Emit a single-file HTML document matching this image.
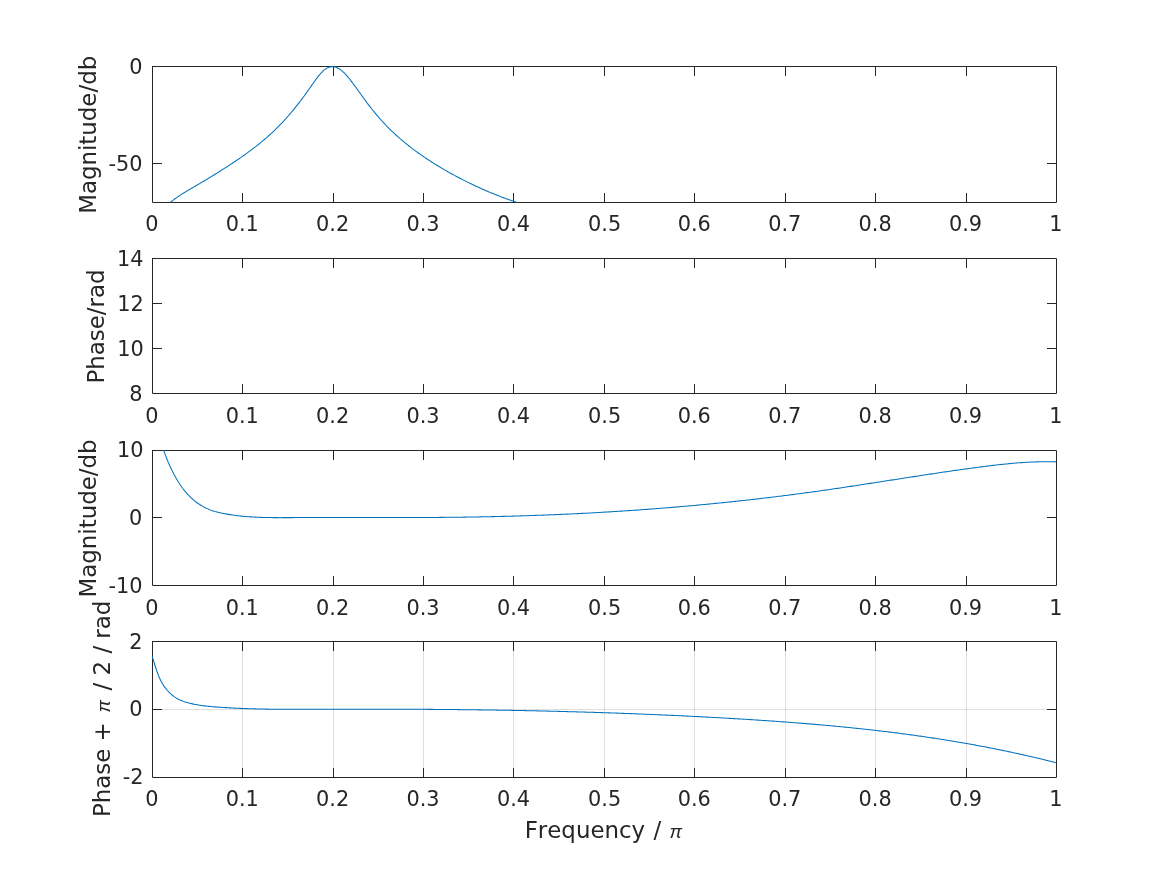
<!DOCTYPE html>
<html><head><meta charset="utf-8"><title>Figure</title>
<style>html,body{margin:0;padding:0;background:#fff;overflow:hidden}svg{display:block}text{font-kerning:none}</style>
</head><body>
<svg width="1167" height="875" viewBox="0 0 1167 875">
<rect width="1167" height="875" fill="#fff"/>
<path d="M242.5,641.5V777.5M333.5,641.5V777.5M423.5,641.5V777.5M513.5,641.5V777.5M604.5,641.5V777.5M694.5,641.5V777.5M785.5,641.5V777.5M875.5,641.5V777.5M966.5,641.5V777.5M152.5,709.5H1056.5" stroke="#262626" stroke-opacity="0.15" stroke-width="1" fill="none"/>
<path d="M152.5,66.5H1056.5V202.5H152.5V66.5M242.5,202.5v-9M242.5,66.5v9M333.5,202.5v-9M333.5,66.5v9M423.5,202.5v-9M423.5,66.5v9M513.5,202.5v-9M513.5,66.5v9M604.5,202.5v-9M604.5,66.5v9M694.5,202.5v-9M694.5,66.5v9M785.5,202.5v-9M785.5,66.5v9M875.5,202.5v-9M875.5,66.5v9M966.5,202.5v-9M966.5,66.5v9M152.5,163.5h9M1056.5,163.5h-9" stroke="#262626" stroke-width="1" fill="none" stroke-linecap="square"/>
<path d="M152.5,258.5H1056.5V393.5H152.5V258.5M242.5,393.5v-9M242.5,258.5v9M333.5,393.5v-9M333.5,258.5v9M423.5,393.5v-9M423.5,258.5v9M513.5,393.5v-9M513.5,258.5v9M604.5,393.5v-9M604.5,258.5v9M694.5,393.5v-9M694.5,258.5v9M785.5,393.5v-9M785.5,258.5v9M875.5,393.5v-9M875.5,258.5v9M966.5,393.5v-9M966.5,258.5v9M152.5,303.5h9M1056.5,303.5h-9M152.5,348.5h9M1056.5,348.5h-9" stroke="#262626" stroke-width="1" fill="none" stroke-linecap="square"/>
<path d="M152.5,450.5H1056.5V585.5H152.5V450.5M242.5,585.5v-9M242.5,450.5v9M333.5,585.5v-9M333.5,450.5v9M423.5,585.5v-9M423.5,450.5v9M513.5,585.5v-9M513.5,450.5v9M604.5,585.5v-9M604.5,450.5v9M694.5,585.5v-9M694.5,450.5v9M785.5,585.5v-9M785.5,450.5v9M875.5,585.5v-9M875.5,450.5v9M966.5,585.5v-9M966.5,450.5v9M152.5,517.5h9M1056.5,517.5h-9" stroke="#262626" stroke-width="1" fill="none" stroke-linecap="square"/>
<path d="M152.5,641.5H1056.5V777.5H152.5V641.5M242.5,777.5v-9M242.5,641.5v9M333.5,777.5v-9M333.5,641.5v9M423.5,777.5v-9M423.5,641.5v9M513.5,777.5v-9M513.5,641.5v9M604.5,777.5v-9M604.5,641.5v9M694.5,777.5v-9M694.5,641.5v9M785.5,777.5v-9M785.5,641.5v9M875.5,777.5v-9M875.5,641.5v9M966.5,777.5v-9M966.5,641.5v9M152.5,709.5h9M1056.5,709.5h-9" stroke="#262626" stroke-width="1" fill="none" stroke-linecap="square"/>
<defs><clipPath id="c0"><rect x="152" y="66" width="905" height="136.2"/></clipPath><clipPath id="c1"><rect x="152" y="258" width="905" height="135.2"/></clipPath><clipPath id="c2"><rect x="152" y="450" width="905" height="135.2"/></clipPath><clipPath id="c3"><rect x="152" y="641" width="905" height="136.2"/></clipPath></defs>
<path clip-path="url(#c0)" d="M160.00,216.48 L161.00,214.45 L162.00,212.65 L163.00,211.04 L164.00,209.58 L165.00,208.25 L166.00,207.03 L167.00,205.89 L168.00,204.83 L169.00,203.83 L170.00,202.89 L171.00,201.99 L172.00,201.14 L173.00,200.33 L174.00,199.54 L175.00,198.79 L176.00,198.06 L177.00,197.35 L178.00,196.66 L179.00,195.98 L180.00,195.32 L181.00,194.68 L182.00,194.04 L183.00,193.41 L184.00,192.79 L185.00,192.18 L186.00,191.58 L187.00,190.97 L188.00,190.38 L189.00,189.79 L190.00,189.20 L191.00,188.61 L192.00,188.02 L193.00,187.44 L194.00,186.85 L195.00,186.27 L196.00,185.68 L197.00,185.10 L198.00,184.51 L199.00,183.93 L200.00,183.34 L201.00,182.75 L202.00,182.17 L203.00,181.57 L204.00,180.98 L205.00,180.39 L206.00,179.79 L207.00,179.19 L208.00,178.59 L209.00,177.99 L210.00,177.38 L211.00,176.77 L212.00,176.16 L213.00,175.55 L214.00,174.93 L215.00,174.32 L216.00,173.70 L217.00,173.08 L218.00,172.45 L219.00,171.82 L220.00,171.19 L221.00,170.56 L222.00,169.93 L223.00,169.29 L224.00,168.65 L225.00,168.01 L226.00,167.37 L227.00,166.72 L228.00,166.08 L229.00,165.43 L230.00,164.77 L231.00,164.12 L232.00,163.46 L233.00,162.80 L234.00,162.14 L235.00,161.47 L236.00,160.80 L237.00,160.13 L238.00,159.45 L239.00,158.77 L240.00,158.08 L241.00,157.39 L242.00,156.69 L243.00,155.99 L244.00,155.29 L245.00,154.58 L246.00,153.86 L247.00,153.14 L248.00,152.42 L249.00,151.68 L250.00,150.95 L251.00,150.20 L252.00,149.45 L253.00,148.69 L254.00,147.93 L255.00,147.16 L256.00,146.38 L257.00,145.60 L258.00,144.80 L259.00,144.00 L260.00,143.19 L261.00,142.38 L262.00,141.55 L263.00,140.72 L264.00,139.87 L265.00,139.02 L266.00,138.16 L267.00,137.29 L268.00,136.40 L269.00,135.51 L270.00,134.61 L271.00,133.70 L272.00,132.77 L273.00,131.83 L274.00,130.89 L275.00,129.93 L276.00,128.95 L277.00,127.97 L278.00,126.97 L279.00,125.96 L280.00,124.93 L281.00,123.89 L282.00,122.84 L283.00,121.78 L284.00,120.70 L285.00,119.61 L286.00,118.50 L287.00,117.38 L288.00,116.25 L289.00,115.10 L290.00,113.94 L291.00,112.76 L292.00,111.57 L293.00,110.37 L294.00,109.15 L295.00,107.92 L296.00,106.68 L297.00,105.42 L298.00,104.14 L299.00,102.86 L300.00,101.55 L301.00,100.23 L302.00,98.90 L303.00,97.55 L304.00,96.19 L305.00,94.81 L306.00,93.42 L307.00,92.02 L308.00,90.61 L309.00,89.19 L310.00,87.76 L311.00,86.34 L312.00,84.91 L313.00,83.49 L314.00,82.08 L315.00,80.69 L316.00,79.32 L317.00,77.98 L318.00,76.68 L319.00,75.43 L320.00,74.23 L321.00,73.10 L322.00,72.04 L323.00,71.06 L324.00,70.17 L325.00,69.38 L326.00,68.68 L327.00,68.09 L328.00,67.60 L329.00,67.21 L330.00,66.93 L331.00,66.76 L332.00,66.68 L333.00,66.70 L334.00,66.82 L335.00,67.04 L336.00,67.34 L337.00,67.73 L338.00,68.21 L339.00,68.77 L340.00,69.42 L341.00,70.14 L342.00,70.93 L343.00,71.80 L344.00,72.74 L345.00,73.74 L346.00,74.80 L347.00,75.91 L348.00,77.08 L349.00,78.28 L350.00,79.53 L351.00,80.81 L352.00,82.13 L353.00,83.46 L354.00,84.82 L355.00,86.19 L356.00,87.57 L357.00,88.96 L358.00,90.36 L359.00,91.76 L360.00,93.16 L361.00,94.55 L362.00,95.94 L363.00,97.32 L364.00,98.69 L365.00,100.05 L366.00,101.40 L367.00,102.74 L368.00,104.06 L369.00,105.37 L370.00,106.67 L371.00,107.95 L372.00,109.21 L373.00,110.46 L374.00,111.69 L375.00,112.91 L376.00,114.11 L377.00,115.30 L378.00,116.46 L379.00,117.62 L380.00,118.76 L381.00,119.88 L382.00,120.98 L383.00,122.08 L384.00,123.15 L385.00,124.22 L386.00,125.26 L387.00,126.30 L388.00,127.32 L389.00,128.32 L390.00,129.32 L391.00,130.30 L392.00,131.26 L393.00,132.22 L394.00,133.16 L395.00,134.09 L396.00,135.01 L397.00,135.92 L398.00,136.81 L399.00,137.70 L400.00,138.57 L401.00,139.44 L402.00,140.29 L403.00,141.13 L404.00,141.97 L405.00,142.79 L406.00,143.61 L407.00,144.41 L408.00,145.21 L409.00,146.00 L410.00,146.78 L411.00,147.55 L412.00,148.32 L413.00,149.07 L414.00,149.82 L415.00,150.56 L416.00,151.30 L417.00,152.02 L418.00,152.74 L419.00,153.46 L420.00,154.16 L421.00,154.86 L422.00,155.56 L423.00,156.25 L424.00,156.93 L425.00,157.60 L426.00,158.27 L427.00,158.94 L428.00,159.60 L429.00,160.26 L430.00,160.91 L431.00,161.55 L432.00,162.19 L433.00,162.82 L434.00,163.45 L435.00,164.08 L436.00,164.70 L437.00,165.32 L438.00,165.93 L439.00,166.53 L440.00,167.13 L441.00,167.73 L442.00,168.33 L443.00,168.91 L444.00,169.50 L445.00,170.08 L446.00,170.66 L447.00,171.23 L448.00,171.80 L449.00,172.36 L450.00,172.92 L451.00,173.48 L452.00,174.03 L453.00,174.58 L454.00,175.12 L455.00,175.66 L456.00,176.20 L457.00,176.73 L458.00,177.26 L459.00,177.79 L460.00,178.31 L461.00,178.83 L462.00,179.34 L463.00,179.85 L464.00,180.36 L465.00,180.87 L466.00,181.37 L467.00,181.86 L468.00,182.36 L469.00,182.85 L470.00,183.33 L471.00,183.82 L472.00,184.30 L473.00,184.77 L474.00,185.25 L475.00,185.72 L476.00,186.18 L477.00,186.64 L478.00,187.10 L479.00,187.56 L480.00,188.01 L481.00,188.46 L482.00,188.91 L483.00,189.35 L484.00,189.79 L485.00,190.23 L486.00,190.66 L487.00,191.09 L488.00,191.52 L489.00,191.94 L490.00,192.36 L491.00,192.78 L492.00,193.19 L493.00,193.60 L494.00,194.01 L495.00,194.41 L496.00,194.81 L497.00,195.21 L498.00,195.60 L499.00,195.99 L500.00,196.38 L501.00,196.76 L502.00,197.15 L503.00,197.52 L504.00,197.90 L505.00,198.27 L506.00,198.64 L507.00,199.00 L508.00,199.36 L509.00,199.72 L510.00,200.07 L511.00,200.42 L512.00,200.77 L513.00,201.12 L514.00,201.46 L515.00,201.79 L516.00,202.13 L517.00,202.46 L518.00,202.79 L519.00,203.11 L520.00,203.43 L521.00,203.75 L522.00,204.06 L523.00,204.38 L524.00,204.68 L525.00,204.99 L526.00,205.29 L527.00,205.58 L528.00,205.88 L529.00,206.17" stroke="#0072BD" stroke-width="1.05" fill="none" stroke-linejoin="round"/>
<path clip-path="url(#c2)" d="M160.70,442.43 L163.70,450.54 L165.20,454.60 L166.70,458.44 L168.20,462.08 L169.70,465.53 L171.20,468.78 L172.70,471.86 L174.20,474.76 L175.70,477.50 L177.20,480.08 L178.70,482.51 L180.20,484.79 L181.70,486.94 L183.20,488.96 L184.70,490.85 L186.20,492.63 L187.70,494.31 L189.20,495.88 L190.70,497.36 L192.20,498.76 L193.70,500.07 L195.20,501.30 L196.70,502.46 L198.20,503.54 L199.70,504.54 L201.20,505.48 L202.70,506.36 L204.20,507.17 L205.70,507.93 L207.20,508.63 L208.70,509.27 L210.20,509.87 L211.70,510.43 L213.20,510.94 L214.70,511.41 L216.20,511.84 L217.70,512.24 L219.20,512.61 L220.70,512.95 L222.20,513.27 L223.70,513.57 L225.20,513.85 L226.70,514.12 L228.20,514.37 L229.70,514.61 L231.20,514.84 L232.70,515.06 L234.20,515.27 L235.70,515.46 L237.20,515.65 L238.70,515.82 L240.20,515.99 L241.70,516.14 L243.20,516.29 L244.70,516.42 L246.20,516.55 L247.70,516.67 L249.20,516.78 L250.70,516.88 L252.20,516.97 L253.70,517.06 L255.20,517.13 L256.70,517.21 L258.20,517.27 L259.70,517.33 L261.20,517.38 L262.70,517.43 L264.20,517.47 L265.70,517.50 L267.20,517.54 L268.70,517.56 L270.20,517.58 L271.70,517.60 L273.20,517.62 L274.70,517.63 L276.20,517.64 L277.70,517.64 L279.20,517.65 L280.70,517.65 L282.20,517.64 L283.70,517.64 L285.20,517.64 L286.70,517.63 L288.20,517.63 L289.70,517.62 L291.20,517.61 L292.70,517.61 L294.20,517.60 L295.70,517.59 L297.20,517.59 L298.70,517.58 L300.20,517.58 L301.70,517.57 L303.20,517.57 L304.70,517.57 L306.20,517.56 L307.70,517.56 L309.20,517.56 L310.70,517.55 L312.20,517.55 L313.70,517.55 L315.20,517.55 L316.70,517.54 L318.20,517.54 L319.70,517.54 L321.20,517.54 L322.70,517.54 L324.20,517.54 L325.70,517.54 L327.20,517.54 L328.70,517.54 L330.20,517.54 L331.70,517.54 L333.20,517.54 L334.70,517.54 L336.20,517.54 L337.70,517.54 L339.20,517.54 L340.70,517.54 L342.20,517.54 L343.70,517.54 L345.20,517.54 L346.70,517.54 L348.20,517.54 L349.70,517.55 L351.20,517.55 L352.70,517.55 L354.20,517.55 L355.70,517.55 L357.20,517.55 L358.70,517.55 L360.20,517.55 L361.70,517.56 L363.20,517.56 L364.70,517.56 L366.20,517.56 L367.70,517.56 L369.20,517.56 L370.70,517.56 L372.20,517.56 L373.70,517.56 L375.20,517.57 L376.70,517.57 L378.20,517.57 L379.70,517.57 L381.20,517.57 L382.70,517.57 L384.20,517.57 L385.70,517.57 L387.20,517.57 L388.70,517.57 L390.20,517.57 L391.70,517.56 L393.20,517.56 L394.70,517.56 L396.20,517.56 L397.70,517.56 L399.20,517.56 L400.70,517.56 L402.20,517.55 L403.70,517.55 L405.20,517.55 L406.70,517.54 L408.20,517.54 L409.70,517.54 L411.20,517.53 L412.70,517.53 L414.20,517.52 L415.70,517.52 L417.20,517.51 L418.70,517.51 L420.20,517.50 L421.70,517.50 L423.20,517.49 L424.70,517.48 L426.20,517.47 L427.70,517.47 L429.20,517.46 L430.70,517.45 L432.20,517.44 L433.70,517.43 L435.20,517.42 L436.70,517.41 L438.20,517.40 L439.70,517.39 L441.20,517.38 L442.70,517.36 L444.20,517.35 L445.70,517.34 L447.20,517.32 L448.70,517.31 L450.20,517.30 L451.70,517.28 L453.20,517.26 L454.70,517.25 L456.20,517.23 L457.70,517.21 L459.20,517.20 L460.70,517.18 L462.20,517.16 L463.70,517.14 L465.20,517.12 L466.70,517.10 L468.20,517.08 L469.70,517.05 L471.20,517.03 L472.70,517.01 L474.20,516.98 L475.70,516.96 L477.20,516.93 L478.70,516.91 L480.20,516.88 L481.70,516.85 L483.20,516.82 L484.70,516.80 L486.20,516.77 L487.70,516.74 L489.20,516.70 L490.70,516.67 L492.20,516.64 L493.70,516.61 L495.20,516.57 L496.70,516.54 L498.20,516.50 L499.70,516.47 L501.20,516.43 L502.70,516.39 L504.20,516.36 L505.70,516.32 L507.20,516.28 L508.70,516.24 L510.20,516.20 L511.70,516.16 L513.20,516.11 L514.70,516.07 L516.20,516.03 L517.70,515.98 L519.20,515.94 L520.70,515.89 L522.20,515.85 L523.70,515.80 L525.20,515.75 L526.70,515.70 L528.20,515.65 L529.70,515.60 L531.20,515.55 L532.70,515.50 L534.20,515.45 L535.70,515.39 L537.20,515.34 L538.70,515.29 L540.20,515.23 L541.70,515.17 L543.20,515.12 L544.70,515.06 L546.20,515.00 L547.70,514.94 L549.20,514.88 L550.70,514.82 L552.20,514.76 L553.70,514.70 L555.20,514.64 L556.70,514.57 L558.20,514.51 L559.70,514.44 L561.20,514.38 L562.70,514.31 L564.20,514.24 L565.70,514.18 L567.20,514.11 L568.70,514.04 L570.20,513.97 L571.70,513.90 L573.20,513.83 L574.70,513.75 L576.20,513.68 L577.70,513.61 L579.20,513.53 L580.70,513.46 L582.20,513.38 L583.70,513.30 L585.20,513.22 L586.70,513.15 L588.20,513.07 L589.70,512.99 L591.20,512.91 L592.70,512.82 L594.20,512.74 L595.70,512.66 L597.20,512.57 L598.70,512.49 L600.20,512.40 L601.70,512.32 L603.20,512.23 L604.70,512.14 L606.20,512.05 L607.70,511.96 L609.20,511.87 L610.70,511.78 L612.20,511.69 L613.70,511.60 L615.20,511.50 L616.70,511.41 L618.20,511.32 L619.70,511.22 L621.20,511.12 L622.70,511.03 L624.20,510.93 L625.70,510.83 L627.20,510.73 L628.70,510.63 L630.20,510.53 L631.70,510.43 L633.20,510.32 L634.70,510.22 L636.20,510.11 L637.70,510.01 L639.20,509.90 L640.70,509.80 L642.20,509.69 L643.70,509.58 L645.20,509.47 L646.70,509.36 L648.20,509.25 L649.70,509.14 L651.20,509.02 L652.70,508.91 L654.20,508.80 L655.70,508.68 L657.20,508.56 L658.70,508.45 L660.20,508.33 L661.70,508.21 L663.20,508.09 L664.70,507.97 L666.20,507.85 L667.70,507.73 L669.20,507.61 L670.70,507.48 L672.20,507.36 L673.70,507.24 L675.20,507.11 L676.70,506.98 L678.20,506.86 L679.70,506.73 L681.20,506.60 L682.70,506.47 L684.20,506.34 L685.70,506.20 L687.20,506.07 L688.70,505.94 L690.20,505.80 L691.70,505.67 L693.20,505.53 L694.70,505.40 L696.20,505.26 L697.70,505.12 L699.20,504.98 L700.70,504.84 L702.20,504.70 L703.70,504.56 L705.20,504.42 L706.70,504.27 L708.20,504.13 L709.70,503.98 L711.20,503.84 L712.70,503.69 L714.20,503.54 L715.70,503.39 L717.20,503.24 L718.70,503.09 L720.20,502.94 L721.70,502.79 L723.20,502.63 L724.70,502.48 L726.20,502.33 L727.70,502.17 L729.20,502.01 L730.70,501.86 L732.20,501.70 L733.70,501.54 L735.20,501.38 L736.70,501.22 L738.20,501.06 L739.70,500.89 L741.20,500.73 L742.70,500.56 L744.20,500.40 L745.70,500.23 L747.20,500.07 L748.70,499.90 L750.20,499.73 L751.70,499.56 L753.20,499.39 L754.70,499.22 L756.20,499.04 L757.70,498.87 L759.20,498.70 L760.70,498.52 L762.20,498.35 L763.70,498.17 L765.20,497.99 L766.70,497.81 L768.20,497.63 L769.70,497.45 L771.20,497.27 L772.70,497.09 L774.20,496.90 L775.70,496.72 L777.20,496.54 L778.70,496.35 L780.20,496.16 L781.70,495.97 L783.20,495.79 L784.70,495.60 L786.20,495.41 L787.70,495.21 L789.20,495.02 L790.70,494.83 L792.20,494.63 L793.70,494.44 L795.20,494.24 L796.70,494.05 L798.20,493.85 L799.70,493.65 L801.20,493.45 L802.70,493.25 L804.20,493.05 L805.70,492.84 L807.20,492.64 L808.70,492.44 L810.20,492.23 L811.70,492.02 L813.20,491.82 L814.70,491.61 L816.20,491.40 L817.70,491.19 L819.20,490.98 L820.70,490.77 L822.20,490.55 L823.70,490.34 L825.20,490.13 L826.70,489.91 L828.20,489.69 L829.70,489.48 L831.20,489.26 L832.70,489.04 L834.20,488.82 L835.70,488.60 L837.20,488.38 L838.70,488.16 L840.20,487.93 L841.70,487.71 L843.20,487.49 L844.70,487.26 L846.20,487.04 L847.70,486.81 L849.20,486.59 L850.70,486.36 L852.20,486.13 L853.70,485.91 L855.20,485.68 L856.70,485.45 L858.20,485.22 L859.70,484.99 L861.20,484.76 L862.70,484.53 L864.20,484.30 L865.70,484.07 L867.20,483.84 L868.70,483.61 L870.20,483.38 L871.70,483.14 L873.20,482.91 L874.70,482.68 L876.20,482.45 L877.70,482.21 L879.20,481.98 L880.70,481.75 L882.20,481.51 L883.70,481.28 L885.20,481.05 L886.70,480.81 L888.20,480.58 L889.70,480.35 L891.20,480.11 L892.70,479.88 L894.20,479.65 L895.70,479.41 L897.20,479.18 L898.70,478.95 L900.20,478.71 L901.70,478.48 L903.20,478.25 L904.70,478.02 L906.20,477.78 L907.70,477.55 L909.20,477.32 L910.70,477.09 L912.20,476.86 L913.70,476.63 L915.20,476.39 L916.70,476.16 L918.20,475.93 L919.70,475.70 L921.20,475.48 L922.70,475.25 L924.20,475.02 L925.70,474.79 L927.20,474.56 L928.70,474.34 L930.20,474.11 L931.70,473.88 L933.20,473.66 L934.70,473.43 L936.20,473.21 L937.70,472.99 L939.20,472.76 L940.70,472.54 L942.20,472.32 L943.70,472.10 L945.20,471.88 L946.70,471.66 L948.20,471.44 L949.70,471.22 L951.20,471.01 L952.70,470.79 L954.20,470.58 L955.70,470.36 L957.20,470.15 L958.70,469.94 L960.20,469.73 L961.70,469.52 L963.20,469.31 L964.70,469.10 L966.20,468.89 L967.70,468.68 L969.20,468.48 L970.70,468.27 L972.20,468.07 L973.70,467.87 L975.20,467.67 L976.70,467.47 L978.20,467.27 L979.70,467.07 L981.20,466.87 L982.70,466.68 L984.20,466.49 L985.70,466.30 L987.20,466.11 L988.70,465.92 L990.20,465.74 L991.70,465.56 L993.20,465.38 L994.70,465.20 L996.20,465.03 L997.70,464.85 L999.20,464.69 L1000.70,464.52 L1002.20,464.36 L1003.70,464.20 L1005.20,464.05 L1006.70,463.90 L1008.20,463.75 L1009.70,463.61 L1011.20,463.47 L1012.70,463.33 L1014.20,463.20 L1015.70,463.08 L1017.20,462.96 L1018.70,462.84 L1020.20,462.73 L1021.70,462.62 L1023.20,462.52 L1024.70,462.42 L1026.20,462.33 L1027.70,462.25 L1029.20,462.17 L1030.70,462.10 L1032.20,462.03 L1033.70,461.97 L1035.20,461.91 L1036.70,461.86 L1038.20,461.82 L1039.70,461.79 L1041.20,461.76 L1042.70,461.73 L1044.20,461.72 L1045.70,461.71 L1047.20,461.71 L1048.70,461.72 L1050.20,461.73 L1051.70,461.75 L1053.20,461.78 L1054.70,461.82 L1056.00,461.86" stroke="#0072BD" stroke-width="1.05" fill="none" stroke-linejoin="round"/>
<path clip-path="url(#c3)" d="M152.00,655.98 L153.50,660.67 L155.00,665.48 L156.50,670.12 L158.00,674.35 L159.50,678.00 L161.00,681.11 L162.50,683.79 L164.00,686.10 L165.50,688.14 L167.00,689.99 L168.50,691.66 L170.00,693.17 L171.50,694.54 L173.00,695.77 L174.50,696.87 L176.00,697.85 L177.50,698.73 L179.00,699.51 L180.50,700.21 L182.00,700.83 L183.50,701.38 L185.00,701.88 L186.50,702.34 L188.00,702.77 L189.50,703.16 L191.00,703.53 L192.50,703.88 L194.00,704.20 L195.50,704.50 L197.00,704.78 L198.50,705.03 L200.00,705.27 L201.50,705.49 L203.00,705.70 L204.50,705.89 L206.00,706.06 L207.50,706.22 L209.00,706.37 L210.50,706.52 L212.00,706.65 L213.50,706.77 L215.00,706.89 L216.50,707.00 L218.00,707.11 L219.50,707.22 L221.00,707.32 L222.50,707.42 L224.00,707.52 L225.50,707.61 L227.00,707.70 L228.50,707.79 L230.00,707.87 L231.50,707.95 L233.00,708.03 L234.50,708.11 L236.00,708.18 L237.50,708.25 L239.00,708.31 L240.50,708.38 L242.00,708.44 L243.50,708.50 L245.00,708.55 L246.50,708.61 L248.00,708.66 L249.50,708.71 L251.00,708.76 L252.50,708.80 L254.00,708.84 L255.50,708.88 L257.00,708.92 L258.50,708.96 L260.00,708.99 L261.50,709.02 L263.00,709.05 L264.50,709.08 L266.00,709.11 L267.50,709.13 L269.00,709.15 L270.50,709.18 L272.00,709.19 L273.50,709.21 L275.00,709.23 L276.50,709.24 L278.00,709.26 L279.50,709.27 L281.00,709.28 L282.50,709.29 L284.00,709.30 L285.50,709.31 L287.00,709.31 L288.50,709.32 L290.00,709.32 L291.50,709.32 L293.00,709.33 L294.50,709.33 L296.00,709.33 L297.50,709.33 L299.00,709.32 L300.50,709.32 L302.00,709.32 L303.50,709.32 L305.00,709.31 L306.50,709.31 L308.00,709.31 L309.50,709.30 L311.00,709.30 L312.50,709.29 L314.00,709.28 L315.50,709.28 L317.00,709.27 L318.50,709.27 L320.00,709.26 L321.50,709.25 L323.00,709.25 L324.50,709.24 L326.00,709.24 L327.50,709.23 L329.00,709.23 L330.50,709.22 L332.00,709.22 L333.50,709.21 L335.00,709.21 L336.50,709.20 L338.00,709.20 L339.50,709.19 L341.00,709.19 L342.50,709.19 L344.00,709.18 L345.50,709.18 L347.00,709.18 L348.50,709.17 L350.00,709.17 L351.50,709.17 L353.00,709.17 L354.50,709.17 L356.00,709.16 L357.50,709.16 L359.00,709.16 L360.50,709.16 L362.00,709.16 L363.50,709.16 L365.00,709.16 L366.50,709.16 L368.00,709.16 L369.50,709.16 L371.00,709.16 L372.50,709.16 L374.00,709.16 L375.50,709.16 L377.00,709.16 L378.50,709.17 L380.00,709.17 L381.50,709.17 L383.00,709.17 L384.50,709.17 L386.00,709.18 L387.50,709.18 L389.00,709.18 L390.50,709.19 L392.00,709.19 L393.50,709.19 L395.00,709.20 L396.50,709.20 L398.00,709.21 L399.50,709.21 L401.00,709.22 L402.50,709.22 L404.00,709.23 L405.50,709.24 L407.00,709.24 L408.50,709.25 L410.00,709.26 L411.50,709.26 L413.00,709.27 L414.50,709.28 L416.00,709.29 L417.50,709.29 L419.00,709.30 L420.50,709.31 L422.00,709.32 L423.50,709.33 L425.00,709.34 L426.50,709.35 L428.00,709.36 L429.50,709.37 L431.00,709.38 L432.50,709.39 L434.00,709.40 L435.50,709.41 L437.00,709.42 L438.50,709.43 L440.00,709.45 L441.50,709.46 L443.00,709.47 L444.50,709.48 L446.00,709.50 L447.50,709.51 L449.00,709.52 L450.50,709.54 L452.00,709.55 L453.50,709.57 L455.00,709.58 L456.50,709.60 L458.00,709.61 L459.50,709.63 L461.00,709.65 L462.50,709.66 L464.00,709.68 L465.50,709.70 L467.00,709.71 L468.50,709.73 L470.00,709.75 L471.50,709.77 L473.00,709.78 L474.50,709.80 L476.00,709.82 L477.50,709.84 L479.00,709.86 L480.50,709.88 L482.00,709.90 L483.50,709.92 L485.00,709.94 L486.50,709.97 L488.00,709.99 L489.50,710.01 L491.00,710.03 L492.50,710.05 L494.00,710.08 L495.50,710.10 L497.00,710.12 L498.50,710.15 L500.00,710.17 L501.50,710.20 L503.00,710.22 L504.50,710.25 L506.00,710.27 L507.50,710.30 L509.00,710.32 L510.50,710.35 L512.00,710.38 L513.50,710.40 L515.00,710.43 L516.50,710.46 L518.00,710.49 L519.50,710.51 L521.00,710.54 L522.50,710.57 L524.00,710.60 L525.50,710.63 L527.00,710.66 L528.50,710.69 L530.00,710.72 L531.50,710.75 L533.00,710.79 L534.50,710.82 L536.00,710.85 L537.50,710.88 L539.00,710.91 L540.50,710.95 L542.00,710.98 L543.50,711.02 L545.00,711.05 L546.50,711.08 L548.00,711.12 L549.50,711.16 L551.00,711.19 L552.50,711.23 L554.00,711.26 L555.50,711.30 L557.00,711.34 L558.50,711.38 L560.00,711.41 L561.50,711.45 L563.00,711.49 L564.50,711.53 L566.00,711.57 L567.50,711.61 L569.00,711.65 L570.50,711.69 L572.00,711.73 L573.50,711.77 L575.00,711.81 L576.50,711.86 L578.00,711.90 L579.50,711.94 L581.00,711.98 L582.50,712.03 L584.00,712.07 L585.50,712.12 L587.00,712.16 L588.50,712.21 L590.00,712.25 L591.50,712.30 L593.00,712.34 L594.50,712.39 L596.00,712.44 L597.50,712.49 L599.00,712.53 L600.50,712.58 L602.00,712.63 L603.50,712.68 L605.00,712.73 L606.50,712.78 L608.00,712.83 L609.50,712.88 L611.00,712.93 L612.50,712.98 L614.00,713.04 L615.50,713.09 L617.00,713.14 L618.50,713.19 L620.00,713.25 L621.50,713.30 L623.00,713.36 L624.50,713.41 L626.00,713.47 L627.50,713.52 L629.00,713.58 L630.50,713.63 L632.00,713.69 L633.50,713.75 L635.00,713.81 L636.50,713.87 L638.00,713.92 L639.50,713.98 L641.00,714.04 L642.50,714.10 L644.00,714.16 L645.50,714.22 L647.00,714.29 L648.50,714.35 L650.00,714.41 L651.50,714.47 L653.00,714.53 L654.50,714.60 L656.00,714.66 L657.50,714.73 L659.00,714.79 L660.50,714.86 L662.00,714.92 L663.50,714.99 L665.00,715.05 L666.50,715.12 L668.00,715.19 L669.50,715.26 L671.00,715.33 L672.50,715.39 L674.00,715.46 L675.50,715.53 L677.00,715.60 L678.50,715.67 L680.00,715.75 L681.50,715.82 L683.00,715.89 L684.50,715.96 L686.00,716.03 L687.50,716.11 L689.00,716.18 L690.50,716.26 L692.00,716.33 L693.50,716.41 L695.00,716.48 L696.50,716.56 L698.00,716.64 L699.50,716.71 L701.00,716.79 L702.50,716.87 L704.00,716.95 L705.50,717.03 L707.00,717.11 L708.50,717.19 L710.00,717.27 L711.50,717.35 L713.00,717.43 L714.50,717.51 L716.00,717.59 L717.50,717.68 L719.00,717.76 L720.50,717.84 L722.00,717.93 L723.50,718.01 L725.00,718.10 L726.50,718.19 L728.00,718.27 L729.50,718.36 L731.00,718.45 L732.50,718.53 L734.00,718.62 L735.50,718.71 L737.00,718.80 L738.50,718.89 L740.00,718.98 L741.50,719.07 L743.00,719.16 L744.50,719.26 L746.00,719.35 L747.50,719.44 L749.00,719.54 L750.50,719.63 L752.00,719.73 L753.50,719.82 L755.00,719.92 L756.50,720.02 L758.00,720.11 L759.50,720.21 L761.00,720.31 L762.50,720.41 L764.00,720.51 L765.50,720.61 L767.00,720.71 L768.50,720.82 L770.00,720.92 L771.50,721.02 L773.00,721.13 L774.50,721.23 L776.00,721.34 L777.50,721.44 L779.00,721.55 L780.50,721.66 L782.00,721.77 L783.50,721.88 L785.00,721.99 L786.50,722.10 L788.00,722.21 L789.50,722.33 L791.00,722.44 L792.50,722.55 L794.00,722.67 L795.50,722.79 L797.00,722.90 L798.50,723.02 L800.00,723.14 L801.50,723.26 L803.00,723.38 L804.50,723.50 L806.00,723.62 L807.50,723.75 L809.00,723.87 L810.50,723.99 L812.00,724.12 L813.50,724.25 L815.00,724.37 L816.50,724.50 L818.00,724.63 L819.50,724.76 L821.00,724.90 L822.50,725.03 L824.00,725.16 L825.50,725.30 L827.00,725.43 L828.50,725.57 L830.00,725.71 L831.50,725.84 L833.00,725.98 L834.50,726.12 L836.00,726.27 L837.50,726.41 L839.00,726.55 L840.50,726.70 L842.00,726.84 L843.50,726.99 L845.00,727.14 L846.50,727.29 L848.00,727.44 L849.50,727.59 L851.00,727.74 L852.50,727.90 L854.00,728.05 L855.50,728.21 L857.00,728.36 L858.50,728.52 L860.00,728.68 L861.50,728.84 L863.00,729.00 L864.50,729.17 L866.00,729.33 L867.50,729.50 L869.00,729.66 L870.50,729.83 L872.00,730.00 L873.50,730.17 L875.00,730.34 L876.50,730.52 L878.00,730.69 L879.50,730.87 L881.00,731.04 L882.50,731.22 L884.00,731.40 L885.50,731.58 L887.00,731.76 L888.50,731.95 L890.00,732.13 L891.50,732.32 L893.00,732.51 L894.50,732.69 L896.00,732.88 L897.50,733.08 L899.00,733.27 L900.50,733.46 L902.00,733.66 L903.50,733.86 L905.00,734.05 L906.50,734.25 L908.00,734.46 L909.50,734.66 L911.00,734.86 L912.50,735.07 L914.00,735.28 L915.50,735.48 L917.00,735.69 L918.50,735.91 L920.00,736.12 L921.50,736.33 L923.00,736.55 L924.50,736.77 L926.00,736.99 L927.50,737.21 L929.00,737.43 L930.50,737.65 L932.00,737.88 L933.50,738.11 L935.00,738.33 L936.50,738.56 L938.00,738.80 L939.50,739.03 L941.00,739.26 L942.50,739.50 L944.00,739.74 L945.50,739.98 L947.00,740.22 L948.50,740.46 L950.00,740.71 L951.50,740.95 L953.00,741.20 L954.50,741.45 L956.00,741.70 L957.50,741.95 L959.00,742.21 L960.50,742.47 L962.00,742.72 L963.50,742.98 L965.00,743.25 L966.50,743.51 L968.00,743.77 L969.50,744.04 L971.00,744.31 L972.50,744.58 L974.00,744.85 L975.50,745.13 L977.00,745.40 L978.50,745.68 L980.00,745.96 L981.50,746.24 L983.00,746.52 L984.50,746.81 L986.00,747.09 L987.50,747.38 L989.00,747.67 L990.50,747.97 L992.00,748.26 L993.50,748.56 L995.00,748.85 L996.50,749.15 L998.00,749.46 L999.50,749.76 L1001.00,750.06 L1002.50,750.37 L1004.00,750.68 L1005.50,750.99 L1007.00,751.31 L1008.50,751.62 L1010.00,751.94 L1011.50,752.26 L1013.00,752.58 L1014.50,752.90 L1016.00,753.23 L1017.50,753.55 L1019.00,753.88 L1020.50,754.22 L1022.00,754.55 L1023.50,754.88 L1025.00,755.22 L1026.50,755.56 L1028.00,755.90 L1029.50,756.25 L1031.00,756.59 L1032.50,756.94 L1034.00,757.29 L1035.50,757.64 L1037.00,758.00 L1038.50,758.35 L1040.00,758.71 L1041.50,759.07 L1043.00,759.43 L1044.50,759.80 L1046.00,760.16 L1047.50,760.53 L1049.00,760.90 L1050.50,761.28 L1052.00,761.65 L1053.50,762.03 L1055.00,762.41 L1055.90,762.64" stroke="#0072BD" stroke-width="1.05" fill="none" stroke-linejoin="round"/>
<g font-family="DejaVu Sans, sans-serif" font-size="20.83" fill="#262626"><text x="151.77" y="231.20" text-anchor="middle">0</text><text x="242.19" y="231.20" text-anchor="middle">0.1</text><text x="332.60" y="231.20" text-anchor="middle">0.2</text><text x="423.02" y="231.20" text-anchor="middle">0.3</text><text x="513.44" y="231.20" text-anchor="middle">0.4</text><text x="604.65" y="231.20" text-anchor="middle">0.5</text><text x="694.27" y="231.20" text-anchor="middle">0.6</text><text x="784.69" y="231.20" text-anchor="middle">0.7</text><text x="875.11" y="231.20" text-anchor="middle">0.8</text><text x="965.52" y="231.20" text-anchor="middle">0.9</text><text x="1055.94" y="231.20" text-anchor="middle">1</text><text x="142.60" y="74.20" text-anchor="end">0</text><text x="142.60" y="171.20" text-anchor="end">-50</text><text x="151.77" y="423.20" text-anchor="middle">0</text><text x="242.19" y="423.20" text-anchor="middle">0.1</text><text x="332.60" y="423.20" text-anchor="middle">0.2</text><text x="423.02" y="423.20" text-anchor="middle">0.3</text><text x="513.44" y="423.20" text-anchor="middle">0.4</text><text x="604.65" y="423.20" text-anchor="middle">0.5</text><text x="694.27" y="423.20" text-anchor="middle">0.6</text><text x="784.69" y="423.20" text-anchor="middle">0.7</text><text x="875.11" y="423.20" text-anchor="middle">0.8</text><text x="965.52" y="423.20" text-anchor="middle">0.9</text><text x="1055.94" y="423.20" text-anchor="middle">1</text><text x="143.60" y="266.20" text-anchor="end">14</text><text x="143.80" y="311.20" text-anchor="end">12</text><text x="143.80" y="356.20" text-anchor="end">10</text><text x="142.60" y="401.20" text-anchor="end">8</text><text x="151.77" y="615.20" text-anchor="middle">0</text><text x="242.19" y="615.20" text-anchor="middle">0.1</text><text x="332.60" y="615.20" text-anchor="middle">0.2</text><text x="423.02" y="615.20" text-anchor="middle">0.3</text><text x="513.44" y="615.20" text-anchor="middle">0.4</text><text x="604.65" y="615.20" text-anchor="middle">0.5</text><text x="694.27" y="615.20" text-anchor="middle">0.6</text><text x="784.69" y="615.20" text-anchor="middle">0.7</text><text x="875.11" y="615.20" text-anchor="middle">0.8</text><text x="965.52" y="615.20" text-anchor="middle">0.9</text><text x="1055.94" y="615.20" text-anchor="middle">1</text><text x="143.60" y="457.20" text-anchor="end">10</text><text x="142.30" y="525.20" text-anchor="end">0</text><text x="142.60" y="593.20" text-anchor="end">-10</text><text x="151.77" y="806.20" text-anchor="middle">0</text><text x="242.19" y="806.20" text-anchor="middle">0.1</text><text x="332.60" y="806.20" text-anchor="middle">0.2</text><text x="423.02" y="806.20" text-anchor="middle">0.3</text><text x="513.44" y="806.20" text-anchor="middle">0.4</text><text x="604.65" y="806.20" text-anchor="middle">0.5</text><text x="694.27" y="806.20" text-anchor="middle">0.6</text><text x="784.69" y="806.20" text-anchor="middle">0.7</text><text x="875.11" y="806.20" text-anchor="middle">0.8</text><text x="965.52" y="806.20" text-anchor="middle">0.9</text><text x="1055.94" y="806.20" text-anchor="middle">1</text><text x="142.40" y="649.20" text-anchor="end">2</text><text x="142.40" y="716.20" text-anchor="end">0</text><text x="143.60" y="784.20" text-anchor="end">-2</text></g>
<text transform="translate(95.9,134.8) rotate(-90)" text-anchor="middle" font-family="DejaVu Sans, sans-serif" font-size="22.9" fill="#262626">Magnitude/db</text>
<text transform="translate(104,326.5) rotate(-90)" text-anchor="middle" font-family="DejaVu Sans, sans-serif" font-size="22.9" fill="#262626">Phase/rad</text>
<text transform="translate(95.6,518.5) rotate(-90)" text-anchor="middle" font-family="DejaVu Sans, sans-serif" font-size="22.9" fill="#262626">Magnitude/db</text>
<text transform="translate(109.7,817) rotate(-90)" font-family="DejaVu Sans, sans-serif" font-size="22.9" fill="#262626">Phase + <tspan dx="2.4" font-family="Liberation Sans, sans-serif" font-style="italic" font-size="18.8">π</tspan><tspan dx="2.2"> / 2 / rad</tspan></text>
<text x="524.7" y="838" font-family="DejaVu Sans, sans-serif" font-size="22.9" fill="#262626">Frequency<tspan dx="1"> /</tspan> <tspan dx="1" font-family="Liberation Sans, sans-serif" font-style="italic" font-size="18.8">π</tspan></text>
</svg>
</body></html>
